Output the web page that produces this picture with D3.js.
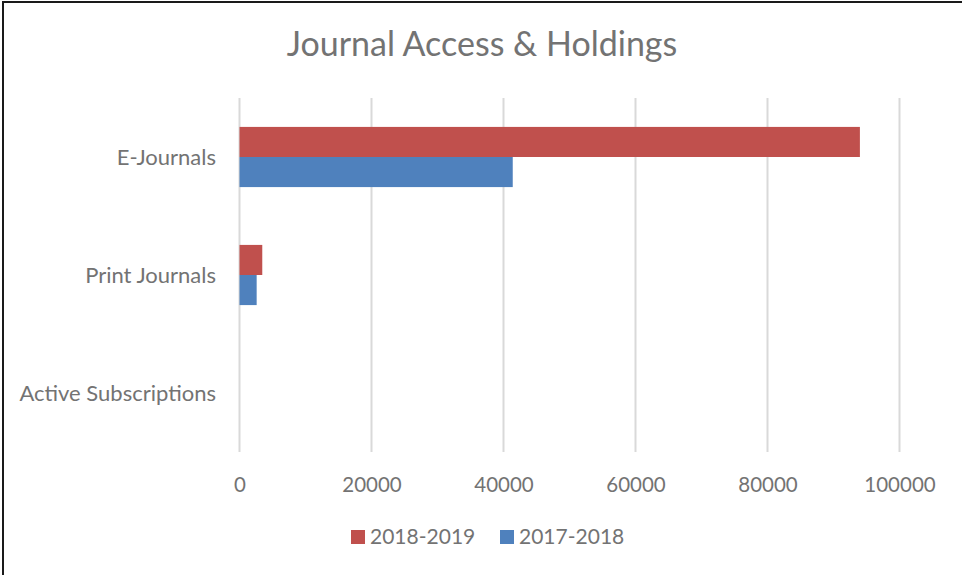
<!DOCTYPE html>
<html lang="en">
<head>
<meta charset="UTF-8">
<title>Journal Access & Holdings</title>
<script src="https://d3js.org/d3.v7.min.js"></script>
<style>
  body { margin: 0; background: #fff; font-family: 'Lato', 'Open Sans', sans-serif; }
  #chart { width: 962px; height: 575px; }
</style>
</head>
<body>
<div id="chart"></div>
<script>
// data
const categories = ["E-Journals", "Print Journals", "Active Subscriptions"];
const seriesNames = ["2018-2019", "2017-2018"];
const values2018_2019 = [94000, 3450, 0];
const values2017_2018 = [41400, 2600, 0];
const xTicks = [0, 20000, 40000, 60000, 80000, 100000];
const colors = ["#c0504d", "#4f81bd"];

const width = 962, height = 575;
const plot = { left: 239.5, right: 899.5, top: 98, bottom: 452 };
const textColor = "#737373";

const svg = d3.select("#chart").append("svg")
    .attr("width", width)
    .attr("height", height);

// outer frame
svg.append("rect")
    .attr("x", 3).attr("y", 2)
    .attr("width", width).attr("height", height)
    .attr("fill", "#fff")
    .attr("stroke", "#1a1a1a")
    .attr("stroke-width", 2);

const x = d3.scaleLinear()
    .domain([0, 100000])
    .range([plot.left, plot.right]);

const y = d3.scaleBand()
    .domain(categories)
    .range([plot.top, plot.bottom])
    .paddingInner(0.49)
    .paddingOuter(0.245);

const ySub = d3.scaleBand()
    .domain(seriesNames)
    .range([0, y.bandwidth()]);

// gridlines
svg.append("g")
    .selectAll("line")
    .data(xTicks)
    .join("line")
    .attr("x1", d => x(d)).attr("x2", d => x(d))
    .attr("y1", plot.top).attr("y2", plot.bottom)
    .attr("stroke", "#d9d9d9")
    .attr("stroke-width", 2);

// x tick labels
const xAxis = d3.axisBottom(x).tickValues(xTicks).tickSize(0).tickPadding(0).tickFormat(d3.format("d"));
const gx = svg.append("g")
    .attr("transform", `translate(0, ${plot.bottom + 40})`)
    .call(xAxis);
gx.select(".domain").remove();
gx.selectAll("text")
    .attr("dy", 0)
    .attr("fill", textColor)
    .style("font-size", "20.5px")
    .style("font-family", "Lato, sans-serif");

// y category labels
const yAxis = d3.axisLeft(y).tickSize(0).tickPadding(0);
const gy = svg.append("g")
    .attr("transform", `translate(216, 0)`)
    .call(yAxis);
gy.select(".domain").remove();
gy.selectAll("text")
    .attr("dy", "0.35em")
    .attr("fill", textColor)
    .style("font-size", "22px")
    .style("font-family", "Lato, sans-serif");

// bars
const rows = categories.map((c, i) => ({
    category: c,
    bars: [
        { name: seriesNames[0], value: values2018_2019[i], color: colors[0] },
        { name: seriesNames[1], value: values2017_2018[i], color: colors[1] }
    ]
}));

svg.append("g")
    .selectAll("g")
    .data(rows)
    .join("g")
    .attr("transform", d => `translate(0, ${y(d.category)})`)
    .selectAll("rect")
    .data(d => d.bars)
    .join("rect")
    .attr("x", x(0))
    .attr("y", d => ySub(d.name))
    .attr("width", d => x(d.value) - x(0))
    .attr("height", ySub.bandwidth())
    .attr("fill", d => d.color);

// title
svg.append("text")
    .attr("x", 482).attr("y", 56)
    .attr("text-anchor", "middle")
    .attr("fill", textColor)
    .style("font-size", "34px")
    .style("font-family", "Lato, sans-serif")
    .text("Journal Access & Holdings");

// legend
const legend = svg.append("g").attr("transform", "translate(351, 537)");
const legendItems = legend.selectAll("g")
    .data(seriesNames)
    .join("g")
    .attr("transform", (d, i) => `translate(${i * 149}, 0)`);
legendItems.append("rect")
    .attr("x", 0).attr("y", -7)
    .attr("width", 14).attr("height", 14)
    .attr("fill", (d, i) => colors[i]);
legendItems.append("text")
    .attr("x", 19).attr("y", 0)
    .attr("dy", "0.35em")
    .attr("fill", textColor)
    .style("font-size", "21px")
    .style("font-family", "Lato, sans-serif")
    .text(d => d);
</script>
</body>
</html>
